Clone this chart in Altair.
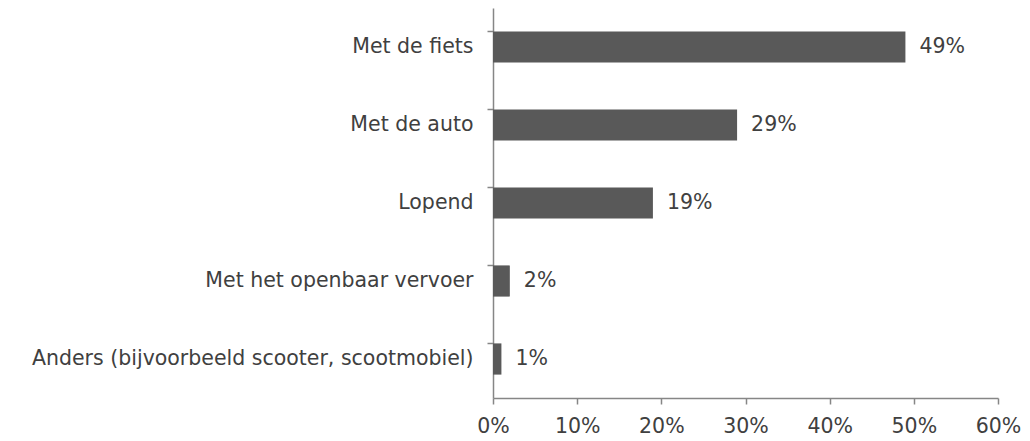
import altair as alt
import pandas as pd

categories = [
    "Met de fiets",
    "Met de auto",
    "Lopend",
    "Met het openbaar vervoer ",
    "Anders (bijvoorbeeld scooter, scootmobiel)",
]
values = [0.49, 0.29, 0.19, 0.02, 0.01]
labels = ["49%", "29%", "19%", "2%", "1%"]

df = pd.DataFrame({"cat": categories, "val": values, "lab": labels})

FONT = "DejaVu Sans"
FS = 20.5
TXT = "#404040"
AX = "#868686"

y = alt.Y(
    "cat:N",
    sort=categories,
    title=None,
    scale=alt.Scale(paddingInner=0.6, paddingOuter=0.3),
    axis=alt.Axis(
        domainColor=AX, tickColor=AX, tickSize=6, labelColor=TXT,
        labelFont=FONT, labelFontSize=FS, labelPadding=14, labelLimit=600,
        ticks=True, bandPosition=0, domainWidth=1.5, tickWidth=1.5,
    ),
)

x = alt.X(
    "val:Q",
    title=None,
    scale=alt.Scale(domain=[0, 0.6], nice=False),
    axis=alt.Axis(
        values=[0, 0.1, 0.2, 0.3, 0.4, 0.5, 0.6], format=".0%", grid=False,
        domainColor=AX, tickColor=AX, tickSize=6, labelColor=TXT,
        labelFont=FONT, labelFontSize=FS, labelPadding=12, labelFlush=False,
        domainWidth=1.5, tickWidth=1.5,
    ),
)

bars = alt.Chart(df).mark_bar(color="#595959").encode(x=x, y=y)
text = alt.Chart(df).mark_text(
    align="left", baseline="middle", dx=14, font=FONT, fontSize=FS, color=TXT
).encode(x="val:Q", y=alt.Y("cat:N", sort=categories), text="lab:N")

chart = (bars + text).properties(
    width=505, height=390,
    autosize=alt.AutoSizeParams(type="none"),
    padding={"left": 485, "top": 0, "right": 23, "bottom": 40},
).configure(background="white").configure_view(stroke=None)

chart.save("out.html", embed_options={"renderer": "svg", "actions": False})
